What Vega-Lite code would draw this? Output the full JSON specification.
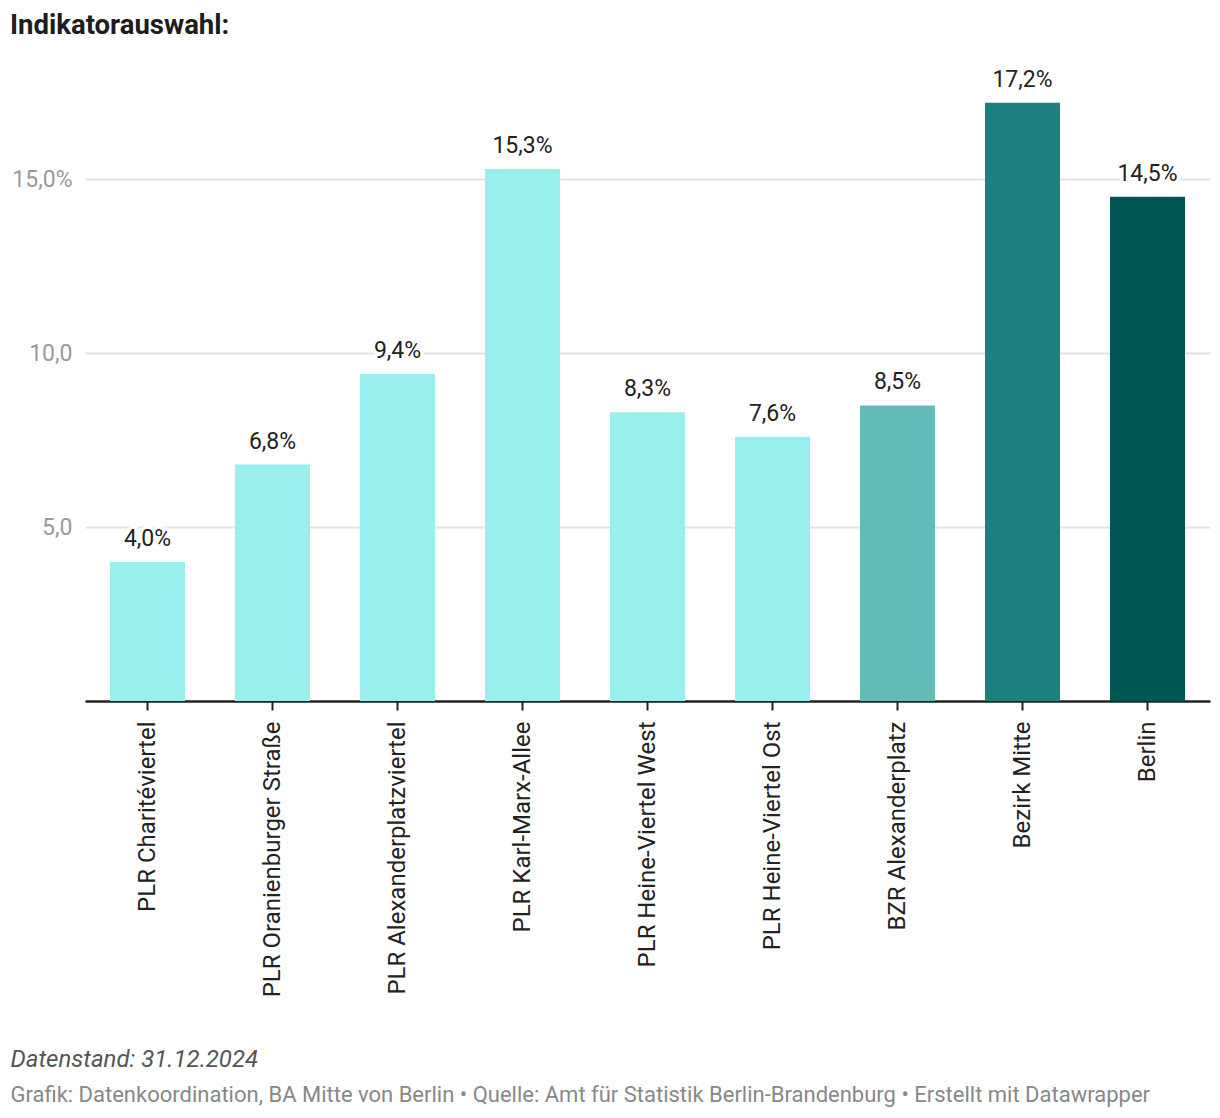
{
  "$schema": "https://vega.github.io/schema/vega-lite/v6.json",
  "autosize": {"type": "none"},
  "width": 1125,
  "height": 626,
  "padding": {"left": 85, "top": 75, "right": 10, "bottom": 417},
  "background": "white",
  "config": {
    "font": "Roboto",
    "view": {"stroke": null},
    "title": {"font": "Roboto"},
    "axis": {"labelFont": "Roboto", "titleFont": "Roboto"}
  },
  "title": {
    "text": "Indikatorauswahl:",
    "anchor": "start",
    "frame": "group",
    "dx": -75,
    "fontSize": 27.5,
    "fontWeight": "bold",
    "color": "#1d1d1d",
    "baseline": "alphabetic",
    "offset": 7
  },
  "data": {
    "values": [
      {"name": "PLR Charitéviertel", "value": 4.0, "group": "PLR"},
      {"name": "PLR Oranienburger Straße", "value": 6.8, "group": "PLR"},
      {"name": "PLR Alexanderplatzviertel", "value": 9.4, "group": "PLR"},
      {"name": "PLR Karl-Marx-Allee", "value": 15.3, "group": "PLR"},
      {"name": "PLR Heine-Viertel West", "value": 8.3, "group": "PLR"},
      {"name": "PLR Heine-Viertel Ost", "value": 7.6, "group": "PLR"},
      {"name": "BZR Alexanderplatz", "value": 8.5, "group": "BZR"},
      {"name": "Bezirk Mitte", "value": 17.2, "group": "Bezirk"},
      {"name": "Berlin", "value": 14.5, "group": "Berlin"}
    ]
  },
  "transform": [
    {"calculate": "replace(format(datum.value, '.1f'), '.', ',') + '%'", "as": "label"}
  ],
  "encoding": {
    "x": {
      "field": "name",
      "type": "nominal",
      "sort": null,
      "scale": {"paddingInner": 0.4, "paddingOuter": 0.2},
      "axis": {
        "title": "Datenstand: 31.12.2024",
        "titleFontSize": 24,
        "titleFontStyle": "italic",
        "titleFontWeight": "normal",
        "titleColor": "#555555",
        "titleAnchor": "start",
        "titleAlign": "left",
        "titleBaseline": "alphabetic",
        "titleX": -75,
        "titleY": 365,
        "labelAngle": -90,
        "labelFontSize": 24,
        "labelColor": "#222222",
        "labelPadding": 11,
        "labelLimit": 400,
        "tickColor": "#222222",
        "tickSize": 9,
        "tickWidth": 2,
        "domainColor": "#222222",
        "domainWidth": 2.5,
        "grid": false
      }
    },
    "y": {
      "field": "value",
      "type": "quantitative",
      "scale": {"domain": [0, 18], "nice": false},
      "axis": {
        "title": "Grafik: Datenkoordination, BA Mitte von Berlin • Quelle: Amt für Statistik Berlin-Brandenburg • Erstellt mit Datawrapper",
        "titleFontSize": 22,
        "titleFontWeight": "normal",
        "titleColor": "#888888",
        "titleAngle": 0,
        "titleAlign": "left",
        "titleBaseline": "alphabetic",
        "titleX": -75,
        "titleY": 1026,
        "values": [5, 10, 15],
        "labelExpr": "datum.value == 15 ? '15,0%' : replace(format(datum.value, '.1f'), '.', ',')",
        "labelFontSize": 23,
        "labelColor": "#9a9a9a",
        "labelPadding": 13,
        "ticks": false,
        "domain": false,
        "grid": true,
        "gridColor": "#e4e4e4",
        "gridWidth": 2
      }
    }
  },
  "layer": [
    {
      "mark": {"type": "bar"},
      "encoding": {
        "color": {
          "field": "group",
          "type": "nominal",
          "scale": {"domain": ["PLR", "BZR", "Bezirk", "Berlin"], "range": ["#98efee", "#62bab9", "#1d7f7e", "#005655"]},
          "legend": null
        }
      }
    },
    {
      "mark": {"type": "text", "baseline": "alphabetic", "dy": -16, "fontSize": 23, "stroke": "white", "strokeWidth": 6, "fill": "white"},
      "encoding": {"text": {"field": "label"}}
    },
    {
      "mark": {"type": "text", "baseline": "alphabetic", "dy": -16, "fontSize": 23, "fill": "#222222"},
      "encoding": {"text": {"field": "label"}}
    }
  ]
}
